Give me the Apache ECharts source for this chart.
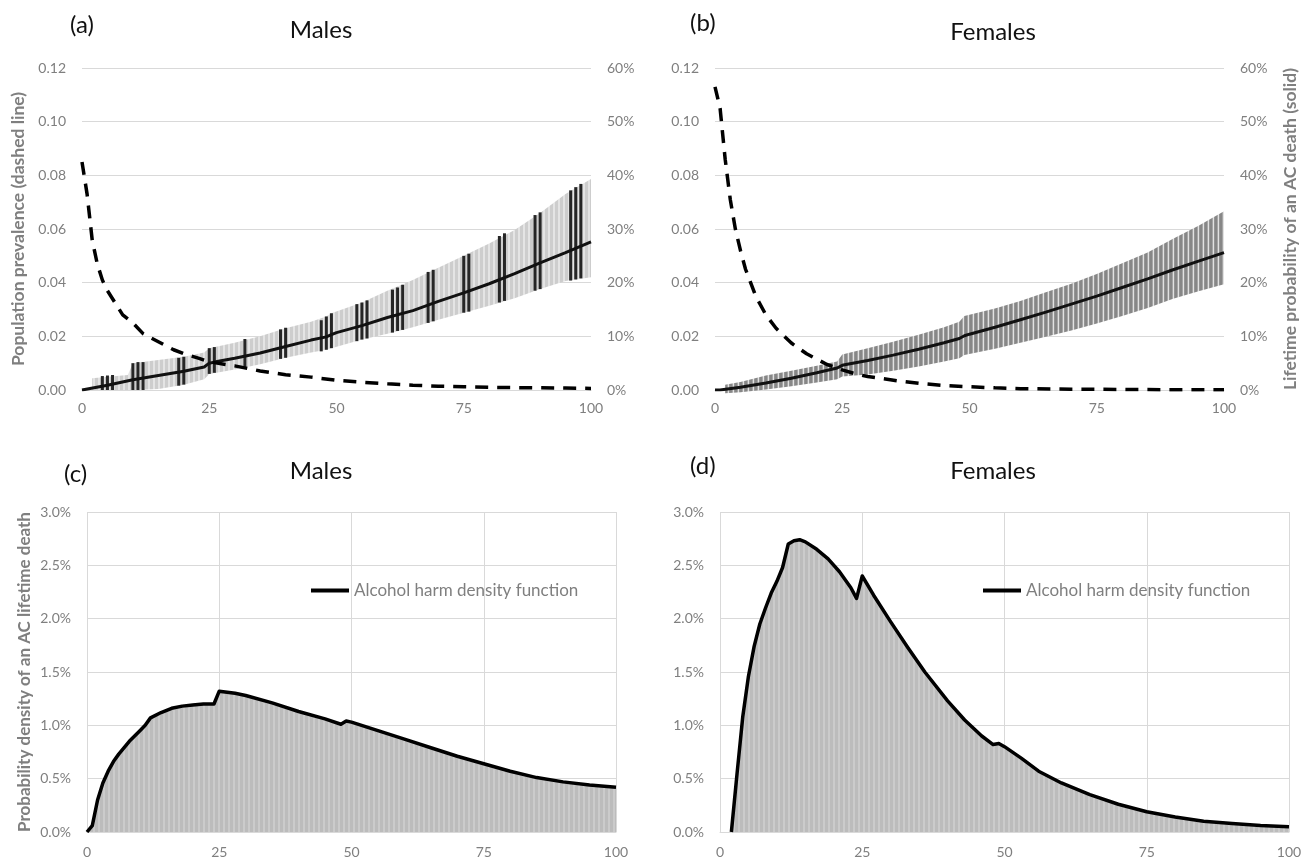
<!DOCTYPE html>
<html>
<head>
<meta charset="utf-8">
<title>Alcohol harm by age</title>
<script src="https://cdn.jsdelivr.net/npm/echarts@6/dist/echarts.min.js"></script>
<style>
html, body { margin: 0; padding: 0; background: #fff; }
#main { width: 1311px; height: 862px; }
</style>
</head>
<body>
<div id="main"></div>
<script>
// ---- (a) males ----
var ageA_dash = [0,1,2,3,4,5,6,8,10,12,15,18,20,23,25,30,35,40,45,50,55,60,65,70,75,80,85,90,95,100];
var prevA = [0.085,0.073,0.056,0.047,0.041,0.037,0.034,0.028,0.025,0.021,0.018,0.015,0.0135,0.0118,0.0105,0.009,0.0071,0.0057,0.0048,0.0036,0.0029,0.0023,0.0018,0.0014,0.0012,0.0010,0.0009,0.0008,0.0007,0.0006];

var ageA_line = [0,5,10,15,20,24,25,26,30,35,40,45,48,49,50,55,60,65,70,75,80,85,90,95,100];
var probA = [0,0.009,0.019,0.027,0.035,0.043,0.050,0.052,0.059,0.069,0.081,0.093,0.099,0.103,0.107,0.120,0.135,0.148,0.165,0.181,0.198,0.217,0.237,0.256,0.276];

var ageA_band = [2,9,10,15,20,24,25,30,35,40,45,48,49,55,60,65,70,75,80,85,90,95,100];
var hiA = [0.022,0.028,0.050,0.056,0.062,0.070,0.078,0.088,0.100,0.115,0.127,0.137,0.143,0.163,0.185,0.205,0.228,0.250,0.273,0.298,0.330,0.365,0.393];
var loA = [0,0,0,0.002,0.010,0.020,0.030,0.038,0.048,0.060,0.070,0.075,0.078,0.094,0.105,0.117,0.131,0.144,0.157,0.171,0.188,0.203,0.210];

var darkX = [4,5,6,10,11,12,19,20,25,26,32,39,40,47,48,49,54,55,56,61,62,63,68,69,75,76,82,83,89,90,96,97,98];
var darkLo = [0,0,0,0,0,0,0.008,0.010,0.030,0.032,0.043,0.058,0.060,0.072,0.075,0.078,0.091,0.094,0.096,0.107,0.110,0.112,0.125,0.128,0.144,0.146,0.163,0.166,0.185,0.188,0.204,0.206,0.208];
var darkHi = [0.026,0.027,0.028,0.050,0.052,0.052,0.060,0.062,0.078,0.080,0.095,0.113,0.116,0.130,0.137,0.143,0.160,0.163,0.167,0.187,0.191,0.196,0.220,0.224,0.250,0.254,0.287,0.292,0.326,0.331,0.372,0.378,0.384];

// ---- (b) females ----
var ageB_dash = [0,1,2,3,4,5,6,7,8,10,12,15,18,20,22,25,28,30,33,36,40,45,50,55,60,70,80,90,100];
var prevB = [0.113,0.105,0.086,0.071,0.060,0.052,0.045,0.040,0.035,0.028,0.023,0.0175,0.0135,0.0115,0.0095,0.0075,0.0058,0.005,0.0042,0.0034,0.0025,0.0017,0.0012,0.0008,0.0005,0.0003,0.0002,0.0001,0.0001];

var ageB_line = [0,1,5,10,15,20,24,25,26,30,35,40,45,48,49,50,55,60,65,70,75,80,85,90,95,100];
var probB = [0,0,0.005,0.013,0.022,0.032,0.041,0.046,0.048,0.055,0.065,0.076,0.088,0.096,0.101,0.104,0.117,0.131,0.145,0.160,0.175,0.191,0.207,0.224,0.240,0.256];

var ageB_band = [2,5,10,15,20,24,25,30,35,40,45,48,49,55,60,65,70,75,80,85,90,95,100];
var hiB = [0.010,0.015,0.027,0.036,0.045,0.053,0.066,0.078,0.090,0.103,0.117,0.127,0.138,0.152,0.166,0.182,0.198,0.216,0.236,0.256,0.282,0.306,0.333];
var loB = [-0.006,-0.004,0.001,0.007,0.014,0.020,0.025,0.029,0.036,0.044,0.053,0.059,0.065,0.077,0.088,0.099,0.111,0.124,0.138,0.153,0.170,0.184,0.197];

// ---- (c) males density ----
var ageC = [0,1,2,3,4,5,6,8,10,11,12,14,16,18,20,22,24,25,28,30,35,40,45,48,49,50,55,60,65,70,75,80,85,90,95,100];
var densC = [0,0.0006,0.003,0.0046,0.0057,0.0066,0.0073,0.0085,0.0095,0.0100,0.0107,0.0112,0.0116,0.0118,0.0119,0.0120,0.0120,0.0132,0.0130,0.0128,0.0121,0.0113,0.0106,0.0101,0.0104,0.0103,0.0095,0.0087,0.0079,0.0071,0.0064,0.0057,0.0051,0.0047,0.0044,0.0042];

// ---- (d) females density ----
var ageD = [0,1,2,3,4,5,6,7,8,9,10,11,12,13,14,15,17,19,21,23,24,25,27,30,33,36,40,43,46,48,49,50,53,56,60,65,70,75,80,85,90,95,100];
var densD = [0,null,0,0.0055,0.0108,0.0146,0.0174,0.0195,0.0210,0.0224,0.0235,0.0248,0.0270,0.0273,0.0274,0.0272,0.0265,0.0256,0.0244,0.0229,0.0219,0.0240,0.0222,0.0197,0.0173,0.0150,0.0123,0.0105,0.0090,0.0082,0.0083,0.0080,0.0069,0.0057,0.0046,0.0035,0.0026,0.0019,0.0014,0.0010,0.0008,0.0006,0.0005];

var xTicks = [0, 100, 25]; // min, max, interval

var FONT = 'Lato, "Open Sans", sans-serif';
var TICK = '#7f7f7f';
var GRID = '#d9d9d9';
var LEGEND_NAME = 'Alcohol harm density function';

function pairs(xs, ys) { return xs.map(function (x, i) { return [x, ys[i]]; }); }

// vertical stripe pattern, looks like the dense error bars / columns
function stripes(cols) {
    var w = 0;
    cols.forEach(function (c) { w += c[1]; });
    var cv = document.createElement('canvas');
    cv.width = w; cv.height = 4;
    var ctx = cv.getContext('2d');
    var x = 0;
    cols.forEach(function (c) { ctx.fillStyle = c[0]; ctx.fillRect(x, 0, c[1], 4); x += c[1]; });
    return { image: cv, repeat: 'repeat' };
}
var lightBars = stripes([['#cdcdcd', 3], ['#e4e4e4', 2]]);
var darkBars = stripes([['#878787', 2], ['#a6a6a6', 1], ['#e2e2e2', 1], ['#959595', 1]]);
var densFill = stripes([['#bcbcbc', 3], ['#cbcbcb', 2]]);

function xAxis(grid, split, margin) {
    return {
        type: 'value', gridIndex: grid, min: xTicks[0], max: xTicks[1], interval: xTicks[2],
        axisLine: { show: true, lineStyle: { color: GRID } },
        axisTick: { show: false },
        axisLabel: { color: TICK, fontSize: 14, margin: margin, fontFamily: FONT },
        splitLine: { show: split, lineStyle: { color: GRID } }
    };
}
function yAxis(grid, pos, max, step, fmt, split, name, gap, nameSize) {
    var a = {
        type: 'value', gridIndex: grid, position: pos, min: 0, max: max, interval: step,
        axisLine: { show: false }, axisTick: { show: false },
        axisLabel: { color: TICK, fontSize: 14, margin: 16, fontFamily: FONT, formatter: fmt },
        splitLine: { show: split, lineStyle: { color: GRID } }
    };
    if (name) {
        a.name = name;
        a.nameLocation = 'middle';
        a.nameRotate = 90;
        a.nameGap = gap;
        a.nameTextStyle = { color: TICK, fontSize: nameSize, fontWeight: 'bold', fontFamily: FONT };
    }
    return a;
}
var fmtDec = function (v) { return v.toFixed(2); };
var fmtPct = function (v) { return Math.round(v * 100) + '%'; };
var fmtPct1 = function (v) { return (v * 100).toFixed(1) + '%'; };

function titleItem(text, left, top, align) {
    return {
        text: text, left: left, top: top, padding: 0, textAlign: align || 'left',
        textStyle: { fontSize: 24, fontWeight: 'normal', color: '#111', fontFamily: FONT }
    };
}

// error-bar envelope: one polygon between the low and high readings
function band(xi, yi, xs, lo, hi, fill) {
    return {
        type: 'custom', xAxisIndex: xi, yAxisIndex: yi, silent: true, z: 1,
        encode: { x: 0, y: [1, 2] },
        data: xs.map(function (x, i) { return [x, lo[i], hi[i]]; }),
        renderItem: function (params, api) {
            if (params.dataIndex !== 0) return null;
            var pts = [], i;
            for (i = 0; i < xs.length; i++) pts.push(api.coord([xs[i], hi[i]]));
            for (i = xs.length - 1; i >= 0; i--) pts.push(api.coord([xs[i], lo[i]]));
            return { type: 'polygon', shape: { points: pts }, style: { fill: fill } };
        }
    };
}
function solid(xi, yi, xs, ys) {
    return { type: 'line', xAxisIndex: xi, yAxisIndex: yi, symbol: 'none', z: 5,
        lineStyle: { color: '#111', width: 3 }, data: pairs(xs, ys) };
}
function dashed(xi, yi, xs, ys) {
    return { type: 'line', xAxisIndex: xi, yAxisIndex: yi, symbol: 'none', z: 6,
        lineStyle: { color: '#000', width: 3.5, type: [13, 9] }, data: pairs(xs, ys) };
}
function density(xi, yi, xs, ys) {
    return { type: 'line', name: LEGEND_NAME, xAxisIndex: xi, yAxisIndex: yi, symbol: 'none',
        itemStyle: { color: '#000' },
        lineStyle: { color: '#000', width: 3.5, join: 'round' },
        areaStyle: { color: densFill, opacity: 1 }, data: pairs(xs, ys) };
}
function legendItem(left) {
    return {
        data: [LEGEND_NAME], left: left, top: 582, padding: 0, icon: 'rect',
        itemWidth: 38, itemHeight: 4, selectedMode: false,
        textStyle: { color: TICK, fontSize: 17, fontFamily: FONT }
    };
}

var chart = echarts.init(document.getElementById('main'));
var option = {
    animation: false,
    backgroundColor: '#fff',
    textStyle: { fontFamily: FONT },
    title: [
        titleItem('(a)', 70, 13), titleItem('Males', 321, 18, 'center'),
        titleItem('(b)', 690, 11), titleItem('Females', 993, 20, 'center'),
        titleItem('(c)', 64, 462), titleItem('Males', 321, 459, 'center'),
        titleItem('(d)', 690, 454), titleItem('Females', 993, 459, 'center')
    ],
    legend: [legendItem(311), legendItem(983)],
    grid: [
        { left: 82, top: 68, width: 509, height: 322, outerBoundsMode: 'none' },
        { left: 715, top: 68, width: 509, height: 322, outerBoundsMode: 'none' },
        { left: 87, top: 512, width: 529, height: 320, outerBoundsMode: 'none' },
        { left: 720, top: 512, width: 569, height: 320, outerBoundsMode: 'none' }
    ],
    xAxis: [xAxis(0, false, 11), xAxis(1, false, 11), xAxis(2, true, 13), xAxis(3, true, 13)],
    yAxis: [
        yAxis(0, 'left', 0.12, 0.02, fmtDec, true, 'Population prevalence (dashed line)', 55, 17.5),
        yAxis(0, 'right', 0.6, 0.1, fmtPct, false),
        yAxis(1, 'left', 0.12, 0.02, fmtDec, true),
        yAxis(1, 'right', 0.6, 0.1, fmtPct, false, 'Lifetime probability of an AC death (solid)', 57, 17.5),
        yAxis(2, 'left', 0.03, 0.005, fmtPct1, true, 'Probability density of an AC lifetime death', 54, 17),
        yAxis(3, 'left', 0.03, 0.005, fmtPct1, true)
    ],
    series: [
        band(0, 1, ageA_band, loA, hiA, lightBars),
        {
            type: 'custom', xAxisIndex: 0, yAxisIndex: 1, silent: true, z: 3,
            encode: { x: 0, y: [1, 2] },
            data: darkX.map(function (x, i) { return [x, darkLo[i], darkHi[i]]; }),
            renderItem: function (params, api) {
                var p1 = api.coord([api.value(0), api.value(1)]);
                var p2 = api.coord([api.value(0), api.value(2)]);
                return { type: 'line', shape: { x1: p1[0], y1: p1[1], x2: p2[0], y2: p2[1] },
                    style: { stroke: '#262626', lineWidth: 3 } };
            }
        },
        solid(0, 1, ageA_line, probA),
        dashed(0, 0, ageA_dash, prevA),
        band(1, 3, ageB_band, loB, hiB, darkBars),
        solid(1, 3, ageB_line, probB),
        dashed(1, 2, ageB_dash, prevB),
        density(2, 4, ageC, densC),
        density(3, 5, ageD, densD)
    ]
};
chart.setOption(option);
</script>
</body>
</html>
